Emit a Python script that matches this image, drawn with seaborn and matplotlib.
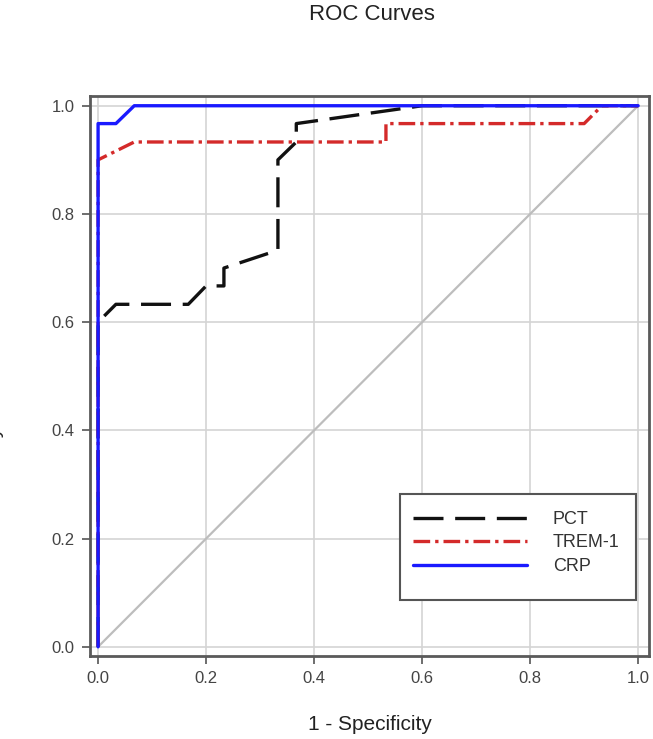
import pandas as pd
import matplotlib.pyplot as plt
from matplotlib.patches import Rectangle
import seaborn as sns

# ROC curve points (1 - specificity, sensitivity)
pct_fpr = [0.0, 0.0, 0.017, 0.033, 0.167, 0.2, 0.233, 0.233, 0.333, 0.333, 0.367, 0.367, 0.6, 1.0]
pct_tpr = [0.0, 0.6, 0.617, 0.633, 0.633, 0.667, 0.667, 0.7, 0.733, 0.9, 0.933, 0.967, 1.0, 1.0]

trem_fpr = [0.0, 0.0, 0.067, 0.533, 0.533, 0.9, 0.933, 1.0]
trem_tpr = [0.0, 0.9, 0.933, 0.933, 0.967, 0.967, 1.0, 1.0]

crp_fpr = [0.0, 0.0, 0.033, 0.067, 1.0]
crp_tpr = [0.0, 0.967, 0.967, 1.0, 1.0]

ref_line = [0.0, 1.0]
ticks = [0.0, 0.2, 0.4, 0.6, 0.8, 1.0]

sns.set_style("whitegrid")
plt.rcParams['font.family'] = ['Liberation Sans', 'DejaVu Sans']

fig = plt.figure(figsize=(6.53, 7.39), dpi=100)
ax = fig.add_axes([0.1378, 0.1123, 0.856, 0.7578])

# reference diagonal
sns.lineplot(x=ref_line, y=ref_line, ax=ax, color='#bdbdbd', linewidth=1.6,
             estimator=None, sort=False, legend=False)

curves = [
    ('PCT', pct_fpr, pct_tpr, '#111111', (9, 3.5)),
    ('TREM-1', trem_fpr, trem_tpr, '#d42a2a', (5, 1.5, 1, 1.5)),
    ('CRP', crp_fpr, crp_tpr, '#1a1aff', None),
]
handles = []
for name, fx, ty, col, dash in curves:
    df = pd.DataFrame({'fpr': fx, 'tpr': ty})
    sns.lineplot(data=df, x='fpr', y='tpr', ax=ax, color=col, linewidth=2.4,
                 estimator=None, sort=False, label=name)
    line = ax.lines[-1]
    if dash is not None:
        line.set_dashes(dash)
    handles.append(line)

ax.set_xlim(-0.015, 1.02)
ax.set_ylim(-0.017, 1.018)
ax.set_xticks(ticks)
ax.set_yticks(ticks)
ax.set_xticklabels([f'{t:.1f}' for t in ticks])
ax.set_yticklabels([f'{t:.1f}' for t in ticks])
ax.grid(True, color='#d4d4d4', linewidth=1.2)
ax.tick_params(axis='both', direction='out', length=6, width=1.2, color='#555555',
               labelsize=12, labelcolor='#444444', pad=5, bottom=True, left=True)
for s in ax.spines.values():
    s.set_color('#5a5a5a')
    s.set_linewidth(2)

ax.set_xlabel('1 - Specificity', fontsize=15, color='#222222', labelpad=21)
ax.set_ylabel('')
fig.text(0.004, 0.36, 'Sensitivity', rotation=90, ha='right', va='center',
         fontsize=15, color='#222222')
fig.text(372 / 653, 1 - 14 / 739, 'ROC Curves', ha='center', va='center',
         fontsize=16, color='#222222')

# legend box drawn separately so its padding matches the original
ax.add_patch(Rectangle((0.555, 0.100), 0.422, 0.189, transform=ax.transAxes,
                       facecolor='white', edgecolor='#555555', linewidth=1.5,
                       zorder=4))
leg = ax.legend(handles=handles, labels=[c[0] for c in curves], loc='upper left',
                bbox_to_anchor=(0.578, 0.259), borderaxespad=0, borderpad=0,
                fontsize=13, handlelength=6.3, handletextpad=1.45,
                labelspacing=0.36, frameon=False, labelcolor='#333333')
leg.set_zorder(5)

fig.savefig('out.png', dpi=100)
